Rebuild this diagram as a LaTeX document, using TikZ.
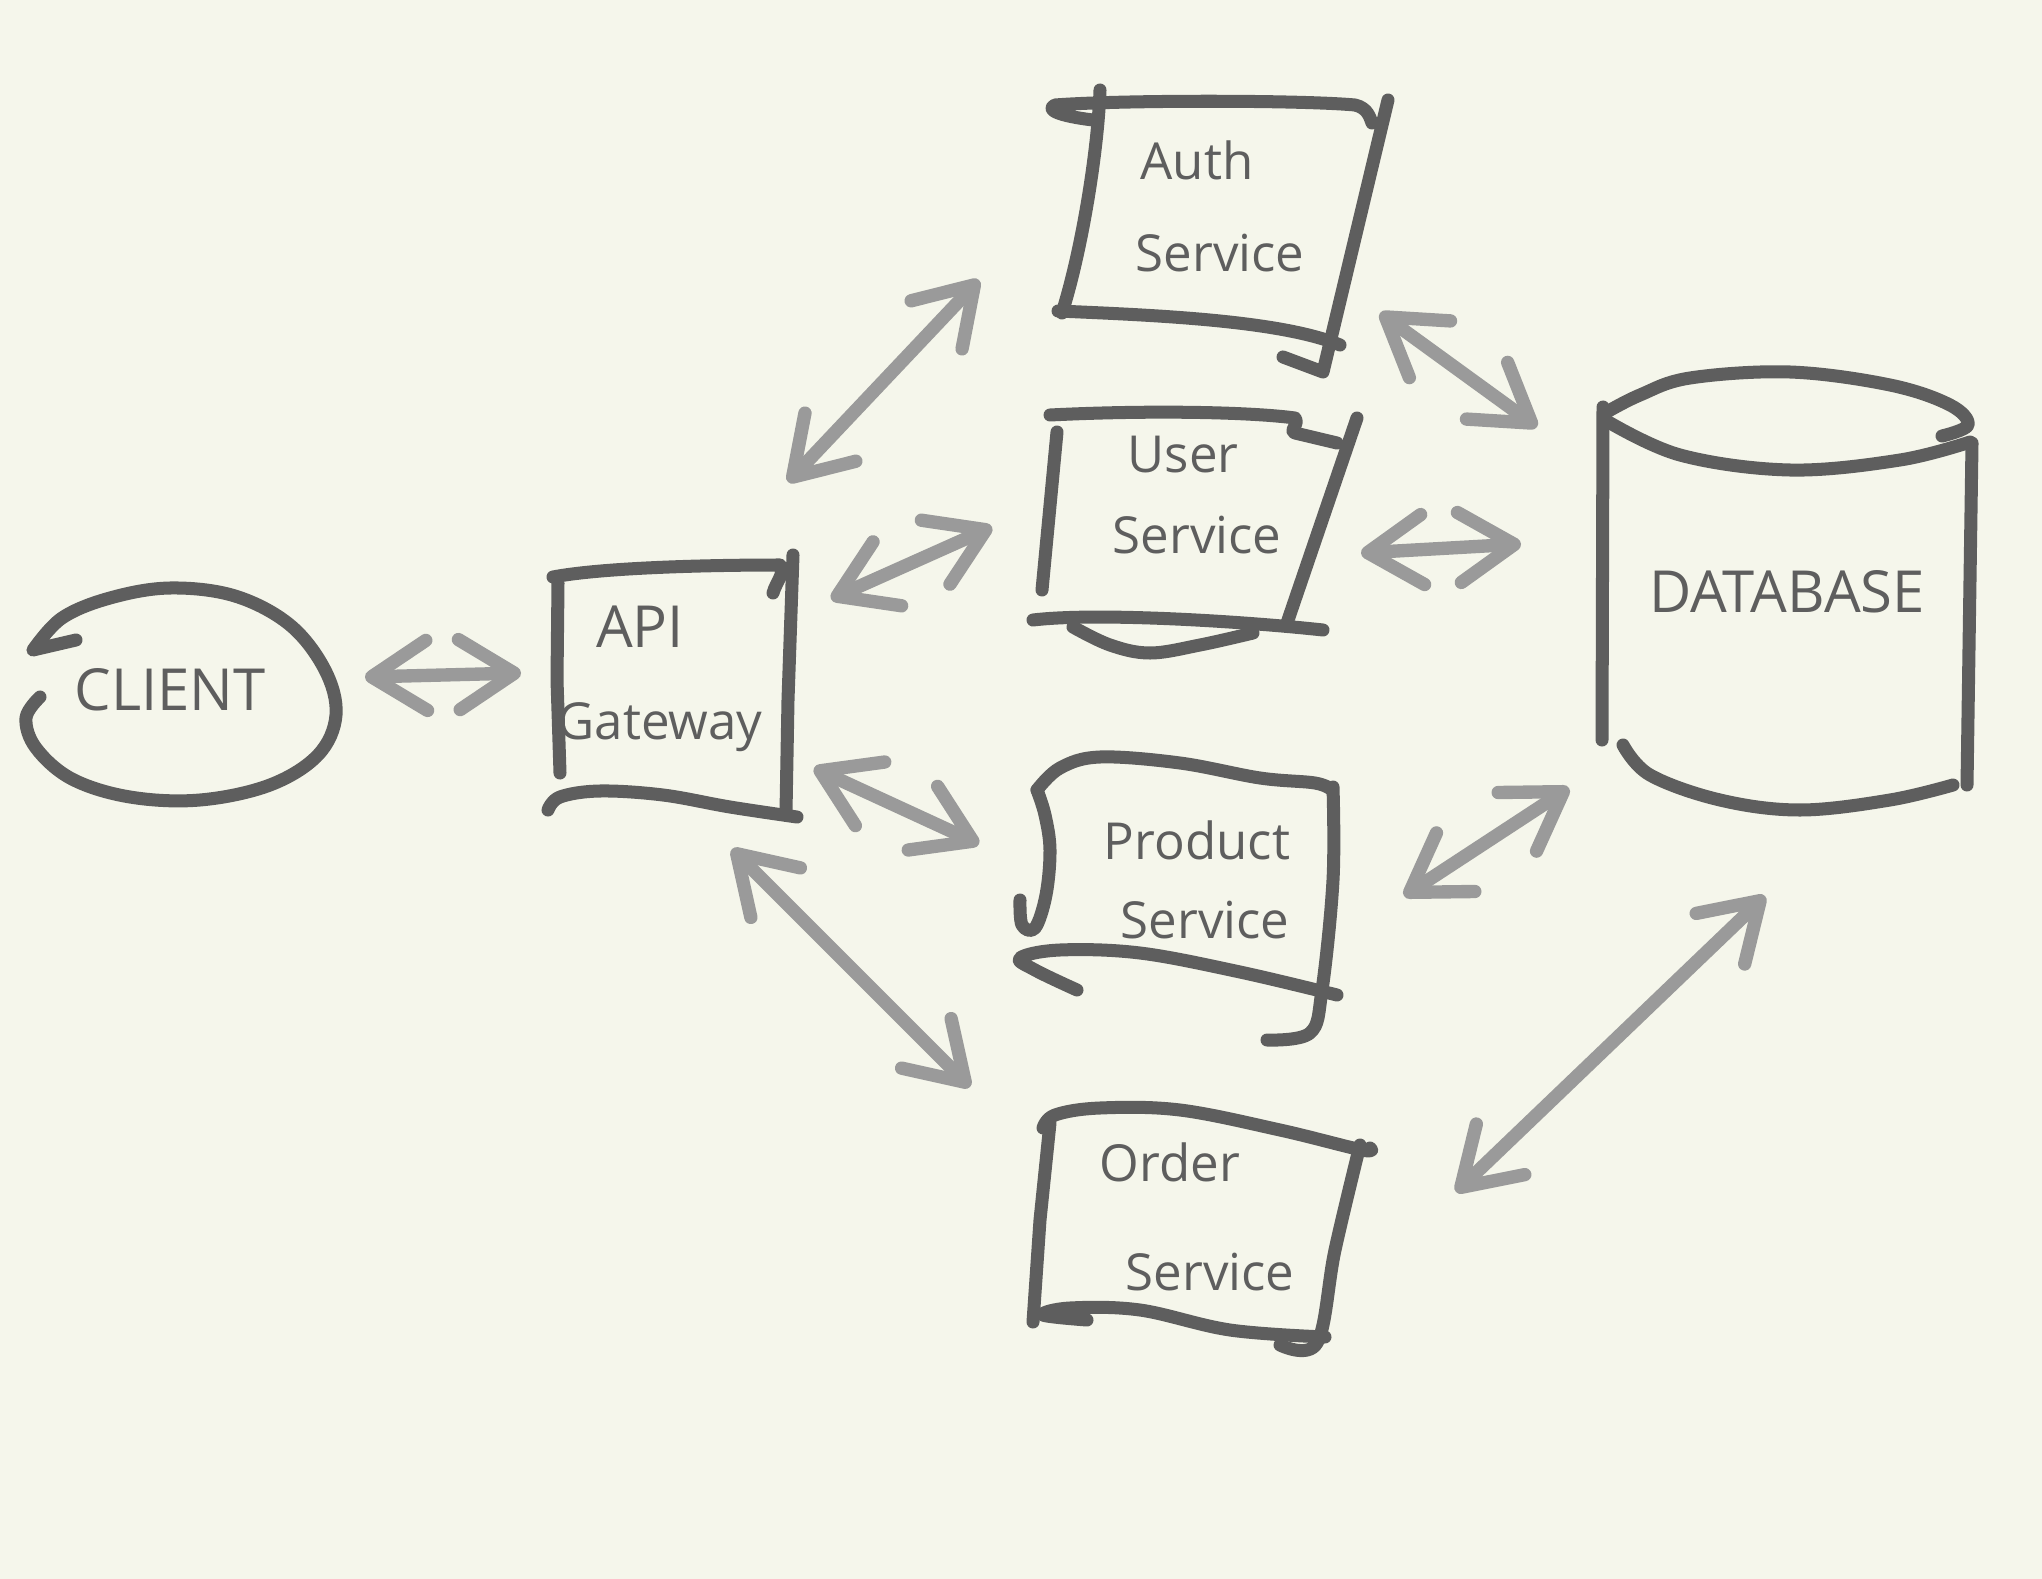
\documentclass[tikz,border=0pt]{standalone}
\usepackage{fontspec}
\setmainfont{Open Sans}
\usetikzlibrary{arrows.meta,calc}
\definecolor{bg}{HTML}{F5F6EB}
\definecolor{ink}{HTML}{5E5E5E}
\definecolor{arrgrey}{HTML}{9A9A9A}
\begin{document}
\begin{tikzpicture}[x=0.01cm,y=-0.01cm,
  sk/.style={draw=ink, line width=3.7pt, line cap=round, line join=round},
  conn/.style={draw=arrgrey, line width=3.8pt, line cap=round, {Straight Barb[length=0.55cm,width=0.7cm,line cap=round,line join=round]}-{Straight Barb[length=0.55cm,width=0.7cm,line cap=round,line join=round]}},
  lbl/.style={text=ink, font=\fontsize{14.5}{17}\selectfont, inner sep=0pt},
  capslbl/.style={text=ink, font=\fontsize{16.5}{19}\selectfont, inner sep=0pt},
  hold/.style={draw=none, inner sep=0pt}]
\fill[bg] (0,0) rectangle (2042,1579);
\useasboundingbox (0,0) rectangle (2042,1579);

% ---------- holder nodes (shape extents) ----------
\node[hold, minimum width=3.16cm, minimum height=2.12cm] (client) at (178,694) {};
\node[hold, minimum width=2.41cm, minimum height=2.54cm] (api) at (673,693) {};
\node[hold, minimum width=3.26cm, minimum height=2.73cm] (auth) at (1224,235) {};
\node[hold, minimum width=3.12cm, minimum height=2.12cm] (user) at (1198,523) {};
\node[hold, minimum width=3.06cm, minimum height=2.67cm] (product) at (1175,901) {};
\node[hold, minimum width=3.26cm, minimum height=2.35cm] (order) at (1198,1230) {};
\node[hold, minimum width=3.67cm, minimum height=4.35cm] (db) at (1785,590) {};

% ---------- client ----------
\draw[sk] plot[smooth, tension=0.6] coordinates {(40,697) (26,718) (36,748) (72,779) (130,797) (200,800) (270,785) (318,755) (336,715) (325,670) (290,625) (235,596) (170,588) (110,598) (62,618) (33,650)} -- (76,640);

% ---------- API gateway ----------
\draw[sk] (553,577) .. controls (600,568) and (700,565) .. (780,565) .. controls (786,572) and (776,582) .. (773,593);
\draw[sk] (558,583) -- (557,680) -- (560,773);
\draw[sk] (793,555) -- (788,700) -- (786,812);
\draw[sk] plot[smooth, tension=0.6] coordinates {(548,810) (560,797) (600,791) (663,795) (730,807) (797,817)};

% ---------- Auth service ----------
\draw[sk] (1093,120) .. controls (1060,116) and (1045,110) .. (1055,105) .. controls (1120,100) and (1300,100) .. (1355,105) .. controls (1368,108) and (1370,118) .. (1372,123);
\draw[sk] (1100,90) .. controls (1098,150) and (1082,250) .. (1062,313);
\draw[sk] (1388,100) -- (1323,372) -- (1283,357);
\draw[sk] (1058,311) .. controls (1150,315) and (1280,320) .. (1340,345);

% ---------- User service ----------
\draw[sk] (1050,415) .. controls (1150,410) and (1250,412) .. (1295,418) .. controls (1300,425) and (1288,430) .. (1295,433) -- (1337,443);
\draw[sk] (1057,432) -- (1042,590);
\draw[sk] (1357,418) -- (1287,623);
\draw[sk] (1033,620) .. controls (1100,612) and (1250,622) .. (1323,630);
\draw[sk] plot[smooth, tension=0.6] coordinates {(1073,627) (1110,645) (1150,653) (1200,645) (1253,633)};

% ---------- Product service ----------
\draw[sk] plot[smooth, tension=0.6] coordinates {(1037,790) (1060,768) (1100,757) (1180,763) (1260,778) (1315,783) (1332,790)};
\draw[sk] plot[smooth, tension=0.6] coordinates {(1037,790) (1045,815) (1050,850) (1046,895) (1035,928) (1022,925) (1020,900)};
\draw[sk] plot[smooth, tension=0.6] coordinates {(1333,787) (1333,880) (1322,990) (1310,1033) (1267,1040)};
\draw[sk] plot[smooth, tension=0.6] coordinates {(1077,990) (1035,970) (1020,958) (1060,950) (1140,953) (1240,972) (1337,995)};

% ---------- Order service ----------
\draw[sk] plot[smooth, tension=0.6] coordinates {(1043,1128) (1055,1115) (1100,1108) (1180,1110) (1280,1130) (1362,1150) (1370,1148)};
\draw[sk] (1050,1123) -- (1040,1220) -- (1033,1322);
\draw[sk] plot[smooth, tension=0.6] coordinates {(1360,1145) (1335,1250) (1317,1343) (1280,1345)};
\draw[sk] plot[smooth, tension=0.6] coordinates {(1087,1320) (1043,1315) (1070,1308) (1140,1310) (1230,1330) (1325,1337)};

% ---------- Database ----------
\draw[sk] plot[smooth, tension=0.6] coordinates {(1605,413) (1640,395) (1690,378) (1790,372) (1890,385) (1950,405) (1968,425) (1942,436)};
\draw[sk] plot[smooth, tension=0.6] coordinates {(1605,420) (1680,455) (1790,470) (1900,460) (1970,442)};
\draw[sk] (1603,407) -- (1602,740);
\draw[sk] (1972,443) -- (1967,785);
\draw[sk] plot[smooth, tension=0.6] coordinates {(1623,745) (1650,775) (1720,800) (1800,810) (1890,800) (1953,785)};

% ---------- labels ----------
\node[capslbl] (clientlbl) at (170,690) {CLIENT};
\node[capslbl] (apilbl1) at (640,627) {API};
\node[lbl] (apilbl2) at (660,727) {Gateway};
\node[lbl] (authlbl1) at (1197,160) {Auth};
\node[lbl] (authlbl2) at (1220,253) {Service};
\node[lbl] (userlbl1) at (1183,455) {User};
\node[lbl] (userlbl2) at (1197,535) {Service};
\node[lbl] (prodlbl1) at (1197,840) {Product};
\node[lbl] (prodlbl2) at (1205,920) {Service};
\node[lbl] (orderlbl1) at (1170,1162) {Order};
\node[lbl] (orderlbl2) at (1210,1272) {Service};
\node[capslbl] (dblbl) at (1787,592) {DATABASE};

% ---------- connectors ----------
\draw[conn] ([shift={(187,-17)}]client.center) -- ([shift={(-152,-20)}]api.center);
\draw[conn] ([shift={(115,-211)}]api.center) -- ([shift={(-245,45)}]auth.center);
\draw[conn] ([shift={(158,-94)}]api.center) -- ([shift={(-206,4)}]user.center);
\draw[conn] ([shift={(141,75)}]api.center) -- ([shift={(-196,-57)}]product.center);
\draw[conn] ([shift={(59,156)}]api.center) -- ([shift={(-228,-143)}]order.center);
\draw[conn] ([shift={(156,78)}]auth.center) -- ([shift={(-248,-163)}]db.center);
\draw[conn] ([shift={(163,30)}]user.center) -- ([shift={(-264,-46)}]db.center);
\draw[conn] ([shift={(229,-5)}]product.center) -- ([shift={(-216,198)}]db.center);
\draw[conn] ([shift={(258,-38)}]order.center) -- ([shift={(-20,306)}]db.center);
\end{tikzpicture}
\end{document}
